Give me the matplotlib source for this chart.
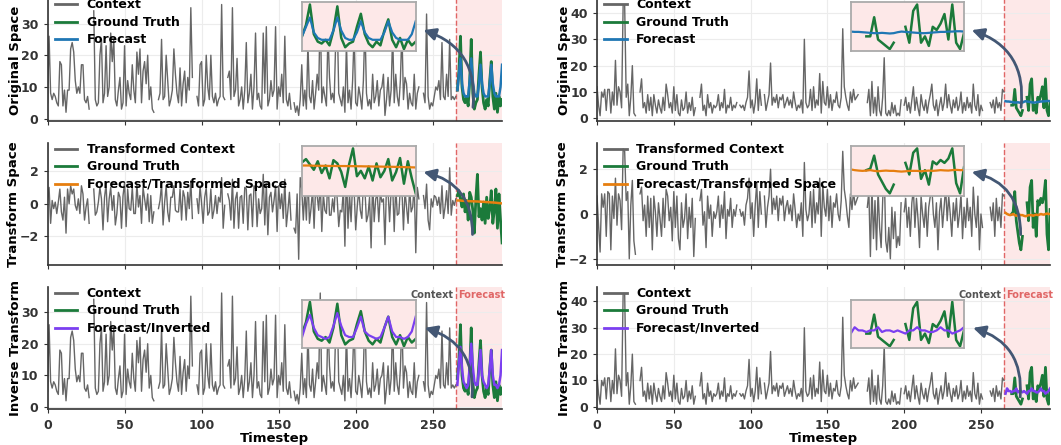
import numpy as np
import matplotlib.pyplot as plt

plt.rcParams['font.family'] = 'DejaVu Sans'
plt.rcParams['font.weight'] = 'bold'
plt.rcParams['axes.labelweight'] = 'bold'

nan = np.nan

TIMESTEP_TICKS = [0, 50, 100, 150, 200, 250]
X_MAX = 295

# left series, original space (context t=0..265, then 30 forecast steps)
left_context = [
    5, 26, 8, 6, 8, 7, 5, 4, 18, 17,
    4, 9, 2, 9, 9, 22, 24, 21, 12, 8,
    10, 8, 17, 17, 6, 5, 7, 3, nan, nan,
    34, 6, 4, 5, 20, 25, 5, 8, 23, 7,
    10, 27, 18, 25, 6, 4, 9, 13, 3, 5,
    23, 4, 12, 8, 6, 17, 9, 5, 21, 14,
    22, 5, 15, 18, 11, 20, 6, 10, 3, 2,
    nan, nan, 6, 8, 25, 6, 7, 20, 12, 4,
    6, 9, 22, 14, 8, 5, 16, 4, 11, 15,
    5, 13, 9, 35, 13, nan, nan, 7, 4, 17,
    18, 4, 6, 20, 10, 6, 20, 7, 5, 8,
    4, 6, 7, 36, 7, 6, nan, 13, 15, 6,
    35, 7, 9, 19, 4, 6, 10, 3, 9, 24,
    5, 8, 14, 3, 10, 27, 6, 8, 4, 3,
    27, 8, 29, 4, 6, 12, 7, 9, 29, 3,
    10, 7, 14, 5, 26, 6, 4, 8, 3, nan,
    5, 2, 4, 1, 6, 17, 4, 9, 3, 24,
    7, 5, 12, 3, 8, 14, 9, 36, 5, 10,
    7, 4, 27, 13, 6, 8, 5, 24, 32, 8,
    6, 4, 10, 2, 24, 5, 9, 3, 12, 27,
    5, 4, 10, 7, 3, 12, 30, 8, 4, 6,
    3, 14, 5, 7, 12, 4, 9, 10, 14, 1,
    6, 13, 4, 9, 27, 5, 14, 7, 4, 12,
    28, 6, 13, 11, 3, 8, 5, 4, 14, 3,
    8, 10, nan, nan, 8, 5, 33, 7, 3, 5,
    4, 7, 10, 9, 12, 6, 24, 7, 6, 14,
    7, 25, 6, 7, 6, 7,
]
left_context_tf = [
    0.2, 1.0, -1.2, 0.2, -0.3, 0.1, -0.6, 0.1, 0.9, -0.5,
    -1.0, 0.4, -1.8, 0.9, 0.0, 1.1, 0.6, 0.9, -0.1, -0.4,
    0.3, -0.6, 1.1, 0.6, -1.0, -0.2, 0.3, -1.2, nan, nan,
    0.9, -0.7, -0.5, 0.1, 1.0, 0.3, -1.6, 0.4, 1.2, -1.1,
    0.3, 1.0, -0.4, 0.5, -1.3, -0.6, 0.7, 0.4, -1.5, 0.5,
    1.3, -1.4, 0.9, -0.3, -0.4, 1.0, -0.6, -0.6, 1.2, -0.2,
    0.5, -1.2, 1.0, 0.3, -0.4, 0.6, -1.1, 0.5, -1.2, -0.5,
    nan, nan, -0.3, 0.2, 1.2, -1.3, 0.1, 1.1, -0.5, -1.1,
    0.4, 0.4, 1.1, -0.4, -0.5, -0.5, 0.9, -1.0, 0.8, 0.4,
    -1.0, 0.7, -0.3, 1.4, -0.9, nan, nan, 0.3, -0.6, 1.1,
    0.0, -1.2, 0.4, 1.0, -0.7, -0.5, 0.9, -0.9, -0.4, 0.5,
    -0.6, 0.4, 0.1, 1.6, -1.5, -0.1, nan, 0.6, 0.2, -1.0,
    1.5, -1.5, 0.3, 0.7, -1.5, 0.4, 0.5, -1.2, 1.0, 0.9,
    -1.6, 0.5, 0.6, -1.4, 1.1, 0.9, -1.4, 0.3, -0.6, -0.3,
    1.8, -1.3, 1.2, -1.9, 0.4, 0.7, -0.5, 0.2, 1.1, -1.7,
    1.1, -0.3, 0.6, -0.9, 1.5, -1.4, -0.4, 0.7, -1.0, nan,
    -1.5, -1.8, 0.6, -3.4, 1.6, 0.9, -1.0, 0.8, -1.0, 1.9,
    -1.2, -0.3, 0.9, -1.5, 1.0, 0.5, -0.4, 1.3, -1.7, 0.6,
    -0.4, -0.6, 1.7, -0.7, -0.7, 0.3, -0.5, 1.5, 0.3, -1.4,
    -0.4, -0.5, 0.9, -2.6, 2.2, -1.5, 0.6, -1.1, 1.3, 0.8,
    -1.6, -0.2, 0.9, -0.4, -0.9, 1.3, 0.9, -1.1, -0.7, 0.4,
    -2.7, 1.4, -1.1, 0.3, 0.6, -1.1, 0.7, 0.1, 0.3, -2.5,
    1.2, 0.8, -1.1, 0.8, 1.1, -1.7, 1.1, -0.7, -0.6, 1.0,
    0.9, -1.6, 0.8, -0.2, -1.2, 1.0, -0.5, -0.2, 1.2, -3.0,
    1.0, 0.3, nan, nan, 0.5, -0.3, 1.2, -1.0, -1.6, 0.3,
    -0.2, 0.5, 0.4, -0.1, 0.4, -0.6, 1.1, -0.9, -0.2, 0.8,
    -0.6, 2.2, -0.7, 0.2, -0.1, 0.3,
]
left_truth = [9, 15, 26, 10, 6, 5, 7, 4, 12, 25,
              8, 3, 5, 6, 14, 21, 10, 5, 3, 6,
              4, 12, 18, 7, 3, 8, 2, 7, 4, 6]
left_truth_tf = [0.5, 0.8, 0.3, -0.2, 0.6, -0.5, 0.2, -1.0, 0.7, 0.4,
                 -0.4, -1.8, 0.3, 1.8, -0.8, -0.3, -1.0, 0.1, -1.2, 0.4,
                 -0.9, -0.3, 0.8, -1.2, -0.4, 0.9, -1.5, 0.6, -1.0, -2.4]
left_forecast = [9, 14, 19, 11, 8, 7, 7, 7, 12, 19,
                 12, 8, 7, 7, 11, 17, 11, 8, 7, 7,
                 7, 11, 17, 11, 8, 7, 7, 7, 10, 17]
left_forecast_tf = [0.20, 0.20, 0.20, 0.18, 0.18, 0.17, 0.17, 0.16, 0.16, 0.15,
                    0.15, 0.15, 0.14, 0.14, 0.13, 0.13, 0.12, 0.12, 0.11, 0.10,
                    0.10, 0.09, 0.08, 0.08, 0.07, 0.06, 0.05, 0.04, 0.03, 0.02]
left_forecast_inv = [7, 14, 19, 12, 8, 7, 6, 7, 13, 20,
                     13, 8, 7, 7, 12, 18, 10, 8, 7, 6,
                     7, 12, 18, 10, 7, 7, 6, 7, 10, 18]

# right series
right_context = [
    12, 5, 1, 10, 8, 11, 3, 11, 11, 2,
    10, 5, 22, 5, 12, 10, 4, 43, 43, 8,
    13, 1, 8, 20, 2, 1, nan, nan, 10, 15,
    4, 6, 2, 9, 3, 8, 1, 9, 5, 2,
    7, 4, 2, 8, 3, 13, 9, 4, 6, 2,
    12, 3, 9, 2, 1, 7, 3, 4, 10, 2,
    6, 3, 8, 1, 4, nan, nan, 8, 13, 3,
    5, 1, 9, 4, 6, 2, 5, 4, 5, 9,
    3, 6, 4, 11, 2, 5, 4, 8, 3, 5,
    4, 6, nan, 5, 4, 5, 3, 6, 8, 18,
    4, 7, 2, 6, 15, 3, 11, 5, nan, 9,
    3, 6, 9, 21, 5, 8, 6, 9, 4, 8,
    7, 9, 4, 6, 8, 5, 7, 4, 10, 6,
    3, 5, 4, 7, 2, 30, 6, 4, 5, 11,
    3, 12, 4, 7, 5, 17, 2, 14, 6, 5,
    12, 4, 9, 3, 7, 6, 10, 5, 4, 8,
    34, 12, 8, 5, 3, 10, 6, 11, 7, 8,
    9, nan, nan, nan, nan, nan, 6, 11, 1, 14,
    2, 8, 1, 12, 3, 1, 8, 23, 2, 1,
    3, 1, 6, 2, 5, 1, 2, 1, 7, nan,
    5, 8, 3, 6, 2, 7, 12, 3, 8, 4,
    1, 9, 5, 3, 7, 2, 6, 9, 13, 5,
    3, 7, 1, 5, 8, 3, 6, 13, 4, 9,
    5, 2, 7, 4, 8, 3, 5, 10, 2, 6,
    3, 8, 4, 6, 2, 13, 5, 3, 9, 1,
    5, 3, nan, nan, nan, nan, 6, 4, 7, 2,
    8, 4, 6, 3, 11, 10,
]
right_context_tf = [
    0.8, -0.5, -1.7, 0.9, 0.3, 0.9, -1.0, 1.0, 0.9, -1.6,
    0.8, -0.2, 1.6, -0.5, 0.9, 0.6, -0.7, 2.9, 2.8, 0.6,
    1.0, -2.0, 0.4, 1.5, -1.2, -1.8, nan, nan, 0.9, 1.2,
    -0.3, 0.4, -1.0, 0.8, -0.6, 0.7, -1.6, 0.8, 0.1, -1.0,
    0.5, -0.2, -1.0, 0.7, -0.6, 1.1, 0.8, -0.3, 0.3, -1.2,
    1.0, -0.6, 0.8, -1.1, -1.6, 0.5, -0.6, -0.2, 0.9, -1.1,
    0.3, -0.6, 0.7, -1.9, -0.2, nan, nan, 0.6, 1.1, -0.5,
    0.1, -1.5, 0.8, -0.2, 0.4, -1.0, 0.1, -0.2, 0.1, 0.8,
    -0.6, 0.4, -0.2, 1.0, -1.1, 0.2, -0.1, 0.7, -0.6, 0.2,
    -0.1, 0.4, nan, 0.2, -0.1, 0.1, -0.5, 0.4, 0.7, 1.6,
    -0.2, 0.5, -1.0, 0.4, 1.4, -0.6, 1.0, 0.0, nan, 0.8,
    -0.6, 0.3, 0.8, 2.0, 0.0, 0.7, 0.2, 0.8, -0.3, 0.7,
    0.4, 0.8, -0.3, 0.3, 0.6, 0.0, 0.4, -0.3, 0.9, 0.2,
    -0.6, 0.0, -0.3, 0.5, -1.0, 2.3, 0.2, -0.3, 0.0, 1.0,
    -0.6, 1.1, -0.4, 0.5, 0.0, 1.6, -1.0, 1.3, 0.3, -0.1,
    1.1, -0.3, 0.8, -0.6, 0.5, 0.3, 0.9, 0.0, -0.3, 0.6,
    2.8, 1.1, 0.6, -0.1, -0.6, 0.9, 0.2, 1.0, 0.4, 0.6,
    0.8, nan, nan, nan, nan, nan, 0.3, 1.0, -1.9, 1.3,
    -1.1, 0.6, -1.6, 1.1, -0.6, -1.5, 0.6, 2.0, -1.2, -1.7,
    -0.6, -2.0, 0.3, -1.1, 0.1, -1.5, -1.0, -1.4, 0.5, nan,
    0.1, 0.7, -0.6, 0.3, -1.0, 0.5, 1.1, -0.6, 0.7, -0.2,
    -1.5, 0.8, 0.0, -0.6, 0.5, -1.0, 0.3, 0.8, 1.2, 0.0,
    -0.6, 0.5, -1.6, 0.1, 0.7, -0.6, 0.3, 1.2, -0.3, 0.8,
    0.0, -1.0, 0.5, -0.3, 0.7, -0.6, 0.0, 0.9, -1.1, 0.3,
    -0.6, 0.7, -0.3, 0.3, -1.0, 1.2, 0.0, -0.6, 0.8, -1.6,
    0.0, -0.6, nan, nan, nan, nan, 0.3, -0.3, 0.5, -1.0,
    0.7, -0.3, 0.3, -0.6, 0.9, 0.8,
]
right_truth = [nan, nan, nan, nan, 5, 5, 11, 4, 3, 2,
               1, 3, nan, nan, 8, 3, 13, 15, 3, 5,
               2, 8, 7, 9, 12, 4, 15, 3, 1, 6]
right_truth_tf = [nan, nan, nan, nan, 0.0, 0.1, 1.0, -0.3, -0.8, -1.3,
                  -1.6, -1.0, nan, nan, 0.5, -0.3, 1.2, 1.5, -0.6, 0.0,
                  -1.0, 0.6, 0.4, 0.7, 0.5, 0.8, 1.5, -0.9, -1.6, 0.2]
right_forecast = [6.5, 6.4, 6.4, 6.3, 6.2, 6.1, 6.0, 6.0, 6.1, 6.0,
                  5.9, 6.0, 6.3, 6.5, 6.4, 6.3, 6.2, 6.1, 6.0, 6.0,
                  6.1, 6.2, 6.3, 6.4, 6.4, 6.5, 6.5, 6.6, 6.6, 6.5]
right_forecast_tf = [0.05, 0.0, -0.03, -0.05, -0.03, 0.0, -0.05, -0.08, -0.05, -0.03,
                     -0.05, -0.05, -0.08, -0.1, -0.08, -0.05, -0.05, -0.05, -0.08, -0.05,
                     -0.03, -0.05, -0.03, 0.0, -0.02, -0.03, 0.0, 0.02, 0.0, 0.0]
right_forecast_inv = [5, 7, 6, 6, 5.5, 6, 6, 7, 5.5, 6,
                      6, 5.5, 6, 5.5, 5, 6, 6, 7, 6, 6,
                      5.5, 5.5, 6, 7, 6, 6, 5, 5.5, 6, 7]

CONTEXT_COLOR = '#666666'
TRUTH_COLOR = '#1b7a3a'
FORECAST_COLORS = ['#1f77b4', '#e67e0f', '#7b3ff0']
ARROW_COLOR = '#435774'
SHADE_COLOR = '#fde8e8'
LINE_RED = '#e06666'

ROW_LABELS = ['Original Space', 'Transform Space', 'Inverse Transform']
ROW_LEGENDS = [
    ['Context', 'Ground Truth', 'Forecast'],
    ['Transformed Context', 'Ground Truth', 'Forecast/Transformed Space'],
    ['Context', 'Ground Truth', 'Forecast/Inverted'],
]
ROW_BOTTOMS = [0.7281, 0.4034, 0.0798]
ROW_HEIGHT = 0.2742
COL_LEFTS = [0.0448, 0.5627]
COL_WIDTHS = [0.4284, 0.4270]
INSET_RECTS = [[0.56, 0.571, 0.25, 0.402],
               [0.56, 0.573, 0.25, 0.405],
               [0.56, 0.50, 0.25, 0.40]]
ARROWS = [((0.827, 0.745), (0.936, 0.112)),
          ((0.827, 0.766), (0.935, 0.254)),
          ((0.830, 0.669), (0.934, 0.103))]


def style_axis(ax, show_xlabels):
    for side in ['top', 'right']:
        ax.spines[side].set_visible(False)
    for side in ['left', 'bottom']:
        ax.spines[side].set_color('#333333')
        ax.spines[side].set_linewidth(1.2)
    ax.grid(True, color='#ececec', linewidth=0.8)
    ax.set_axisbelow(True)
    ax.tick_params(colors='#333333', labelsize=9, length=3)
    ax.set_xticks(TIMESTEP_TICKS)
    if show_xlabels:
        ax.set_xlabel('Timestep', fontsize=9.5, labelpad=0)
    else:
        ax.tick_params(axis='x', labelbottom=False)
    for lab in ax.get_xticklabels() + ax.get_yticklabels():
        lab.set_fontweight('bold')


def draw_panel(ax, row, context, truth, forecast, ylim, yticks):
    n = len(context)
    xc = np.arange(n)
    xf = np.arange(n, n + len(forecast))
    labels = ROW_LEGENDS[row]
    fc_color = FORECAST_COLORS[row]

    ax.axvspan(n - 1, X_MAX, color=SHADE_COLOR, zorder=0, linewidth=0)
    ax.axvline(n - 1, color=LINE_RED, linestyle='--', linewidth=1.0, zorder=1)
    ax.plot(xc, context, color=CONTEXT_COLOR, linewidth=1.0, label=labels[0], zorder=2)
    ax.plot(xf, truth, color=TRUTH_COLOR, linewidth=2.0, label=labels[1], zorder=3)
    ax.plot(xf, forecast, color=fc_color, linewidth=1.8, label=labels[2], zorder=4)

    ax.set_xlim(0, X_MAX)
    ax.set_ylim(*ylim)
    ax.set_yticks(yticks)
    ax.set_ylabel(ROW_LABELS[row], fontsize=9.5, labelpad=-0.5)
    style_axis(ax, row == 2)

    leg = ax.legend(loc='upper left', bbox_to_anchor=(0.008, 1.035), frameon=False,
                    prop={'weight': 'bold', 'size': 9}, handlelength=1.8,
                    handletextpad=0.75, labelspacing=0.36, borderpad=0.2,
                    borderaxespad=0.1)
    for line in leg.get_lines():
        line.set_linewidth(2.0)

    inset = ax.inset_axes(INSET_RECTS[row])
    inset.set_facecolor(SHADE_COLOR)
    inset.plot(xf, truth, color=TRUTH_COLOR, linewidth=1.8)
    inset.plot(xf, forecast, color=fc_color, linewidth=1.6)
    inset.set_xlim(xf[0], xf[-1])
    inset.set_xticks([])
    inset.set_yticks([])
    for sp in inset.spines.values():
        sp.set_color('#aaaaaa')
        sp.set_linewidth(1.3)

    head, tail = ARROWS[row]
    ax.annotate('', xy=head, xytext=tail, xycoords='axes fraction',
                textcoords='axes fraction', zorder=10,
                arrowprops=dict(arrowstyle='-|>', color=ARROW_COLOR, lw=2.0,
                                mutation_scale=18, shrinkA=0, shrinkB=0,
                                connectionstyle='arc3,rad=0.4'))

    if row == 2:
        trans = ax.get_xaxis_transform()
        ax.text(n - 2.5, 0.935, 'Context', transform=trans, ha='right', va='center',
                fontsize=7, fontweight='bold', color='#555555')
        ax.text(n + 0.5, 0.935, 'Forecast', transform=trans, ha='left', va='center',
                fontsize=7, fontweight='bold', color=LINE_RED)


def main():
    fig = plt.figure(figsize=(10.61, 4.45), dpi=100)

    columns = [
        (left_context, left_context_tf, left_truth, left_truth_tf,
         left_forecast, left_forecast_tf, left_forecast_inv,
         [(-0.75, 37.75), (-3.78, 3.69), (-0.75, 37.75)],
         [[0, 10, 20, 30], [-2, 0, 2], [0, 10, 20, 30]]),
        (right_context, right_context_tf, right_truth, right_truth_tf,
         right_forecast, right_forecast_tf, right_forecast_inv,
         [(-1.0, 45.3), (-2.3, 3.15), (-1.0, 45.3)],
         [[0, 10, 20, 30, 40], [-2, 0, 2], [0, 10, 20, 30, 40]]),
    ]

    for c, (ctx, ctx_tf, gt, gt_tf, fc, fc_tf, fc_inv, ylims, yticks) in enumerate(columns):
        series = [(ctx, gt, fc), (ctx_tf, gt_tf, fc_tf), (ctx, gt, fc_inv)]
        for row in range(3):
            ax = fig.add_axes([COL_LEFTS[c], ROW_BOTTOMS[row], COL_WIDTHS[c], ROW_HEIGHT])
            context, truth, forecast = series[row]
            draw_panel(ax, row, context, truth, forecast, ylims[row], yticks[row])

    fig.savefig('out.png', dpi=100)
    plt.close(fig)


if __name__ == '__main__':
    main()
